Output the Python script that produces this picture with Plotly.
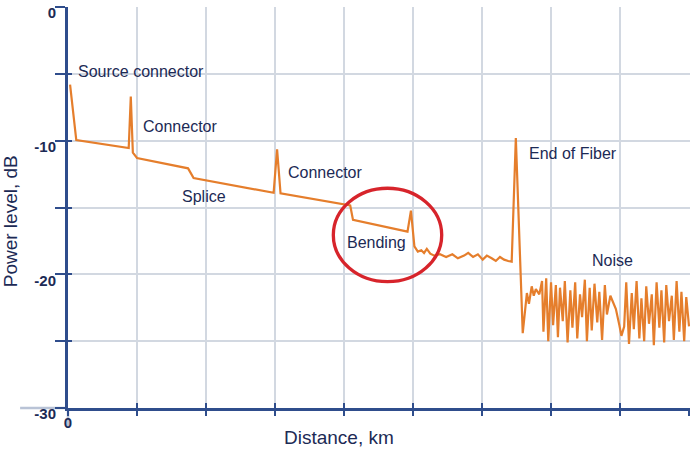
import plotly.graph_objects as go

# ---- data ----
distance_km = [
    0.03, 0.12, 0.88, 0.91, 0.94, 1.00, 1.74, 1.82, 2.98, 3.03, 3.08, 4.09, 4.13,
    4.92, 4.97, 5.02, 5.07, 5.12, 5.16, 5.20, 5.25, 5.31, 5.39, 5.48, 5.57, 5.65,
    5.74, 5.80, 5.87, 5.94, 6.01, 6.07, 6.14, 6.20, 6.26, 6.32, 6.38, 6.43, 6.49,
    6.59, 6.65, 6.68, 6.72, 6.75, 6.78, 6.83, 6.87, 6.89, 6.93, 6.96, 7.00, 7.03,
    7.07, 7.10, 7.13, 7.17, 7.20, 7.24, 7.28, 7.31, 7.35, 7.38, 7.42, 7.45, 7.49,
    7.52, 7.56, 7.59, 7.63, 7.67, 7.70, 7.74, 7.78, 7.81, 7.86, 7.90, 7.94, 7.99,
    8.02, 8.06, 8.09, 8.13, 8.17, 8.20, 8.24, 8.28, 8.31, 8.35, 8.38, 8.42, 8.46,
    8.49, 8.53, 8.57, 8.60, 8.64, 8.67, 8.71, 8.75, 8.78, 8.82, 8.86, 8.89, 8.93,
    8.96, 9.00,
]
power_db = [
    -5.8, -9.95, -10.55, -6.7, -10.9, -11.3, -12.07, -12.8, -13.9, -10.65, -13.94,
    -14.85, -15.93, -16.8, -15.24, -17.9, -18.3, -18.2, -18.4, -18.1, -18.45, -18.6,
    -18.5, -18.7, -18.5, -18.8, -18.6, -18.4, -18.7, -18.5, -18.9, -18.6, -18.8,
    -19.0, -18.7, -18.9, -19.0, -19.05, -9.8,
    -24.4, -21.4, -22.2, -20.9, -21.6, -21.1, -21.5, -20.5, -24.3, -20.3, -25.0,
    -20.6, -23.8, -20.8, -24.7, -21.0, -23.5, -20.5, -25.1, -21.2, -24.0, -20.6,
    -24.8, -21.5, -23.2, -20.4, -25.0, -21.0, -24.2, -20.7, -23.6, -21.3, -24.9,
    -20.8, -23.0, -21.6, -22.1, -22.6, -23.8, -24.6, -23.9, -20.6, -25.2, -21.4,
    -24.1, -20.5, -24.8, -21.8, -25.0, -20.9, -23.7, -21.5, -25.3, -20.6, -24.0,
    -21.2, -25.1, -20.8, -23.5, -21.6, -24.9, -20.5, -24.3, -21.3, -25.0, -21.7,
    -23.9,
]

y_tickvals = [0, -5, -10, -15, -20, -25, -30]
y_ticktext = ["0", "", "-10", "", "-20", "", "-30"]
x_tickvals = [0, 1, 2, 3, 4, 5, 6, 7, 8, 9]
x_ticktext = ["0", "", "", "", "", "", "", "", "", ""]

event_labels = ["Source connector", "Connector", "Splice", "Connector",
                "Bending", "End of Fiber", "Noise"]
event_x = [0.12, 1.06, 1.62, 3.16, 4.01, 6.65, 7.57]
event_y = [-4.8, -8.95, -14.2, -12.35, -17.65, -10.95, -18.95]

NAVY = "#1c2a55"
AXIS = "#2f4d8c"
GRID = "#d2d8e1"
ORANGE = "#e57e2c"
FONT = "Liberation Sans, Arial, sans-serif"

fig = go.Figure()
fig.add_trace(go.Scatter(
    x=distance_km, y=power_db, mode="lines",
    line=dict(color=ORANGE, width=2.2), showlegend=False, hoverinfo="skip",
))
# empty trace to attach the overlay axes carrying the inner half of the cross ticks
fig.add_trace(go.Scatter(x=[None], y=[None], xaxis="x2", yaxis="y2", showlegend=False,
                         hoverinfo="skip"))

for t, xv, yv in zip(event_labels, event_x, event_y):
    fig.add_annotation(x=xv, y=yv, text=t, showarrow=False, xanchor="left",
                       yanchor="middle", font=dict(size=16, color=NAVY, family=FONT))

# red circle around the bending event
fig.add_shape(type="circle", xref="x", yref="y", x0=3.845, x1=5.416, y0=-20.55, y1=-13.56,
              line=dict(color="#d7242b", width=3.3))

# faint axis extensions past the origin
fig.add_shape(type="line", xref="paper", yref="paper", x0=-0.077, x1=0, y0=0, y1=0,
              line=dict(color="#b9c3d6", width=2.5), layer="below")
fig.add_shape(type="line", xref="paper", yref="paper", x0=0, x1=0, y0=-0.05, y1=0,
              line=dict(color="#b9c3d6", width=2.5), layer="below")

# axis titles
fig.add_annotation(xref="paper", yref="paper", x=0.4357, y=-0.0725, text="Distance, km",
                   showarrow=False, xanchor="center", yanchor="middle",
                   font=dict(size=19, color=NAVY, family=FONT))
fig.add_annotation(xref="paper", yref="paper", x=-0.093, y=0.466, text="Power level, dB",
                   showarrow=False, textangle=-90, xanchor="center", yanchor="middle",
                   font=dict(size=19, color=NAVY, family=FONT))

fig.update_layout(
    width=690, height=450,
    margin=dict(l=68, r=0, t=7, b=42, autoexpand=False),
    paper_bgcolor="white", plot_bgcolor="white",
    font=dict(family=FONT, color=NAVY),
    xaxis=dict(
        range=[0, 9.014], tickmode="array", tickvals=x_tickvals, ticktext=x_ticktext,
        showgrid=True, gridcolor=GRID, gridwidth=2, zeroline=False,
        showline=True, linecolor=AXIS, linewidth=3,
        ticks="outside", ticklen=5, tickwidth=2, tickcolor=AXIS,
        tickfont=dict(size=15, color=NAVY, family=FONT, weight="bold"),
        ticklabelstandoff=-6, automargin=False,
    ),
    yaxis=dict(
        range=[-30, 0], tickmode="array", tickvals=y_tickvals, ticktext=y_ticktext,
        showgrid=True, gridcolor=GRID, gridwidth=2, zeroline=False,
        showline=True, linecolor=AXIS, linewidth=3,
        ticks="outside", ticklen=10, tickwidth=2, tickcolor=AXIS,
        tickfont=dict(size=15, color=NAVY, family=FONT, weight="bold"),
        ticklabelshift=6, ticklabelstandoff=-4, automargin=False,
    ),
    xaxis2=dict(
        overlaying="x", range=[0, 9.014], tickmode="array", tickvals=x_tickvals,
        showticklabels=False, showgrid=False, zeroline=False, showline=False,
        ticks="inside", ticklen=5, tickwidth=2, tickcolor=AXIS, side="bottom",
    ),
    yaxis2=dict(
        overlaying="y", range=[-30, 0], tickmode="array", tickvals=y_tickvals,
        showticklabels=False, showgrid=False, zeroline=False, showline=False,
        ticks="inside", ticklen=4, tickwidth=2, tickcolor=AXIS, side="left",
    ),
)

fig.write_html(
    "out.html",
    config={"displayModeBar": False},
    post_script="document.body.style.margin='0';document.body.style.padding='0';"
                "document.documentElement.style.overflow='hidden';",
)
